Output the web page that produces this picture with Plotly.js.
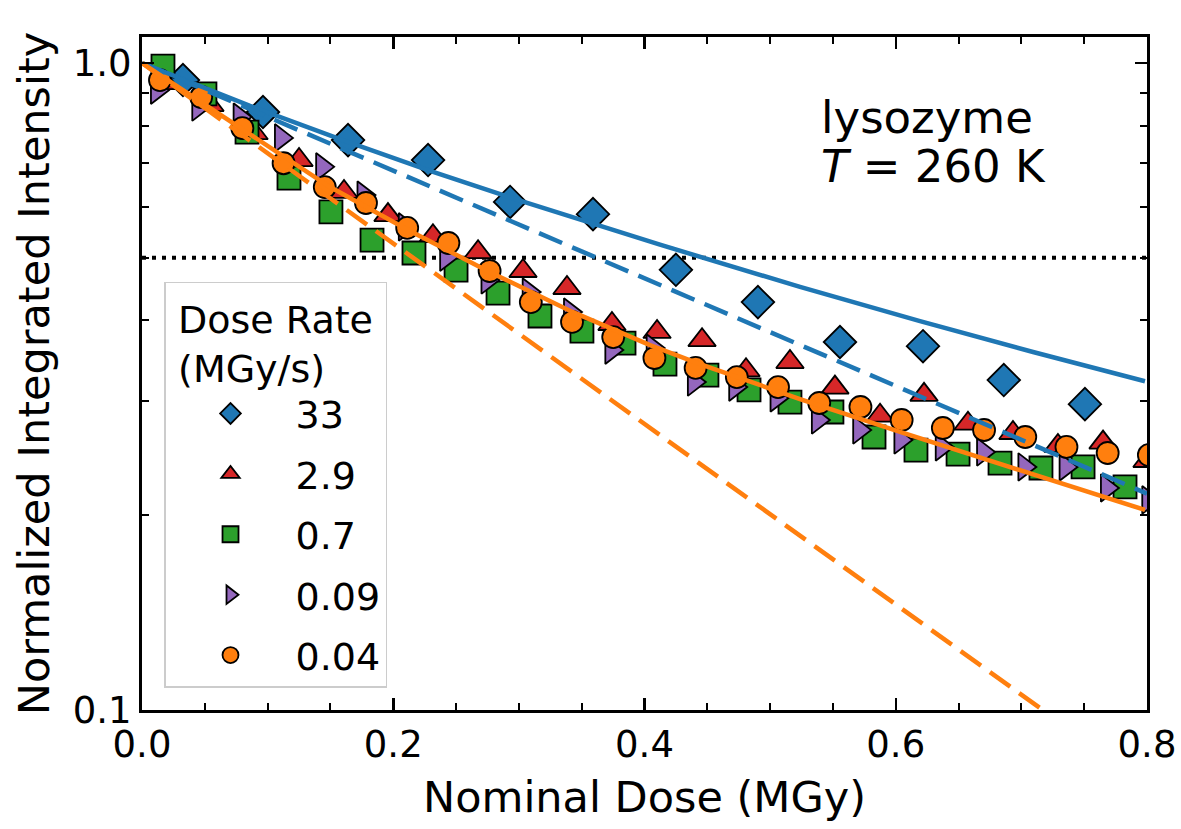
<!DOCTYPE html>
<html>
<head>
<meta charset="utf-8">
<script src="https://cdn.plot.ly/plotly-3.0.1.min.js"></script>
<style>html,body{margin:0;padding:0;background:#fff;}#chart{width:1181px;height:829px;}</style>
</head>
<body>
<div id="chart"></div>
<script>
// ---- Data ----
const seriesNames = ["33", "2.9", "0.7", "0.09", "0.04"];

const dose33 = [0.0326, 0.0963, 0.164, 0.2277, 0.293, 0.359, 0.425, 0.4903, 0.5556, 0.6217, 0.686, 0.7506];
const int33  = [0.941, 0.840, 0.760, 0.708, 0.610, 0.584, 0.479, 0.427, 0.3705, 0.365, 0.3236, 0.297];

const dose29 = [0.0183, 0.0541, 0.0892, 0.125, 0.1608, 0.1958, 0.2316, 0.2675, 0.3033, 0.3383, 0.3741, 0.41, 0.4458, 0.4808, 0.5158, 0.5516, 0.5875, 0.6225, 0.6575, 0.6933, 0.7291, 0.765, 0.80];
const int29  = [0.931, 0.861, 0.779, 0.708, 0.632, 0.582, 0.540, 0.510, 0.477, 0.449, 0.395, 0.384, 0.373, 0.335, 0.345, 0.315, 0.285, 0.307, 0.277, 0.268, 0.256, 0.259, 0.2426];

const dose07 = [0.0167, 0.0501, 0.0836, 0.117, 0.1504, 0.1831, 0.2165, 0.25, 0.2834, 0.3168, 0.3502, 0.3837, 0.4163, 0.4497, 0.4832, 0.5158, 0.5492, 0.5827, 0.6161, 0.6496, 0.683, 0.7156, 0.7491, 0.7825];
const int07  = [0.989, 0.896, 0.782, 0.664, 0.5886, 0.5326, 0.5086, 0.4786, 0.441, 0.4064, 0.385, 0.369, 0.3425, 0.3294, 0.3124, 0.2992, 0.2888, 0.2642, 0.2522, 0.2486, 0.2408, 0.2366, 0.2375, 0.2212];

const dose009 = [0.0119, 0.0448, 0.0777, 0.1106, 0.1434, 0.1763, 0.2092, 0.2421, 0.275, 0.3078, 0.3407, 0.3736, 0.4065, 0.4393, 0.4722, 0.5051, 0.538, 0.5709, 0.6037, 0.6366, 0.6695, 0.7024, 0.7352, 0.7681, 0.801];
const int009  = [0.908, 0.855, 0.825, 0.766, 0.691, 0.625, 0.558, 0.501, 0.462, 0.4426, 0.4122, 0.360, 0.3626, 0.3213, 0.3156, 0.3036, 0.2807, 0.2709, 0.2614, 0.255, 0.2505, 0.2375, 0.2375, 0.2204, 0.2112];

const dose004 = [0.0143, 0.0471, 0.0799, 0.1127, 0.1455, 0.1783, 0.2111, 0.2439, 0.2767, 0.3095, 0.3423, 0.3751, 0.4079, 0.4407, 0.4735, 0.5063, 0.5391, 0.5719, 0.6047, 0.6375, 0.6703, 0.7031, 0.7359, 0.7687, 0.8015];
const int004  = [0.941, 0.886, 0.793, 0.700, 0.643, 0.6076, 0.556, 0.527, 0.477, 0.427, 0.398, 0.377, 0.350, 0.3378, 0.327, 0.3156, 0.2982, 0.294, 0.2807, 0.2728, 0.2709, 0.2642, 0.255, 0.2496, 0.2478];

// fit curves
const fit33SolidX  = [0, 0.086, 0.1576, 0.2293, 0.3009, 0.4123, 0.5238, 0.6193, 0.7093, 0.7984];
const fit33SolidY  = [1.0, 0.8586, 0.7626, 0.6814, 0.6126, 0.5238, 0.4508, 0.399, 0.3575, 0.3222];
const fit33DashX   = [0, 0.8];
const fit33DashY   = [1.0, 0.216];
const fit004SolidX = [0, 0.078, 0.1497, 0.2118, 0.277, 0.3431, 0.4044, 0.4442, 0.5238, 0.6034, 0.683, 0.7984];
const fit004SolidY = [1.0, 0.796, 0.643, 0.552, 0.475, 0.412, 0.3665, 0.3425, 0.3024, 0.269, 0.240, 0.2038];
const fit004DashX  = [0, 0.8];
const fit004DashY  = [1.0, 0.0766];

const halfX = [0, 0.8];
const halfY = [0.5, 0.5];

const xTicks = [0, 0.2, 0.4, 0.6, 0.8];
const xTickText = ["0.0", "0.2", "0.4", "0.6", "0.8"];
const yTicks = [0.1, 1.0];
const yTickText = ["0.1", "1.0"];
const yMinorTicks = [0.2, 0.3, 0.4, 0.5, 0.6, 0.7, 0.8, 0.9];

// ---- Styles ----
const FONT = "DejaVu Sans, Verdana, sans-serif";
const C = {blue: "#1f77b4", orange: "#ff7f0e", green: "#2ca02c", red: "#d62728", purple: "#9467bd"};
const mline = {color: "#000", width: 1.8};

function pts(x, y, name, symbol, color, size) {
  return {
    x: x, y: y, name: name, type: "scatter", mode: "markers",
    legendgroup: name,
    marker: {symbol: symbol, color: color, size: size, line: mline},
    cliponaxis: true
  };
}
function fit(x, y, color, dash) {
  return {x: x, y: y, type: "scatter", mode: "lines", showlegend: false, hoverinfo: "skip",
          line: {color: color, width: 4.5, dash: dash}};
}

const traces = [
  {x: halfX, y: halfY, type: "scatter", mode: "lines", showlegend: false,
   line: {color: "#000", width: 4, dash: "4px,6px"}},
  pts(dose33, int33, seriesNames[0], "diamond", C.blue, 25),
  pts(dose29, int29, seriesNames[1], "triangle-up", C.red, 24),
  pts(dose07, int07, seriesNames[2], "square", C.green, 23),
  pts(dose009, int009, seriesNames[3], "triangle-right", C.purple, 24),
  pts(dose004, int004, seriesNames[4], "circle", C.orange, 22),
  fit(fit33SolidX, fit33SolidY, C.blue, "solid"),
  fit(fit33DashX, fit33DashY, C.blue, "25px,11px"),
  fit(fit004SolidX, fit004SolidY, C.orange, "solid"),
  fit(fit004DashX, fit004DashY, C.orange, "25px,11px")
];

const layout = {
  width: 1181, height: 829,
  margin: {l: 142, r: 34, t: 37, b: 119, pad: 0},
  paper_bgcolor: "#fff", plot_bgcolor: "#fff",
  font: {family: FONT, color: "#000"},
  showlegend: true,
  xaxis: {
    range: [0, 0.8], tickmode: "array", tickvals: xTicks, ticktext: xTickText,
    ticks: "inside", ticklen: 12, tickwidth: 2.5, tickcolor: "#000",
    minor: {tickmode: "linear", tick0: 0, dtick: 0.05, ticks: "inside", ticklen: 7, tickwidth: 2, tickcolor: "#000"},
    showline: true, linewidth: 3, linecolor: "#000", mirror: "allticks",
    showgrid: false, zeroline: false,
    tickfont: {size: 37, family: FONT, color: "#000"},
    title: {text: "Nominal Dose (MGy)", font: {size: 43, family: FONT, color: "#000"}, standoff: 17},
    automargin: false
  },
  yaxis: {
    type: "log", range: [-1, 0.0402], tickmode: "array", tickvals: yTicks, ticktext: yTickText,
    ticks: "inside", ticklen: 12, tickwidth: 2.5, tickcolor: "#000",
    minor: {tickmode: "array", tickvals: yMinorTicks, ticks: "inside", ticklen: 7, tickwidth: 2, tickcolor: "#000"},
    showline: true, linewidth: 3, linecolor: "#000", mirror: "allticks",
    showgrid: false, zeroline: false,
    tickfont: {size: 37, family: FONT, color: "#000"},
    title: {text: "Normalized Integrated Intensity", font: {size: 43, family: FONT, color: "#000"}, standoff: 10},
    automargin: false
  },
  legend: {
    x: 0.0219, y: 0.636, xanchor: "left", yanchor: "top",
    bgcolor: "rgba(255,255,255,0.85)", bordercolor: "#cccccc", borderwidth: 1.5,
    font: {size: 38, family: FONT, color: "#000"},
    title: {text: "Dose Rate<br>(MGy/s)", side: "top center", font: {size: 38, family: FONT, color: "#000"}},
    itemwidth: 120, tracegroupgap: 8
  },
  annotations: [
    {xref: "paper", yref: "paper", x: 0.674, y: 0.880, xanchor: "left", yanchor: "middle",
     text: "lysozyme", showarrow: false, font: {size: 45, family: FONT, color: "#000"}},
    {xref: "paper", yref: "paper", x: 0.674, y: 0.807, xanchor: "left", yanchor: "middle",
     text: "<i>T</i> = 260 K", showarrow: false, font: {size: 45, family: FONT, color: "#000"}}
  ]
};

Plotly.newPlot("chart", traces, layout, {displayModeBar: false, staticPlot: true});
</script>
</body>
</html>
